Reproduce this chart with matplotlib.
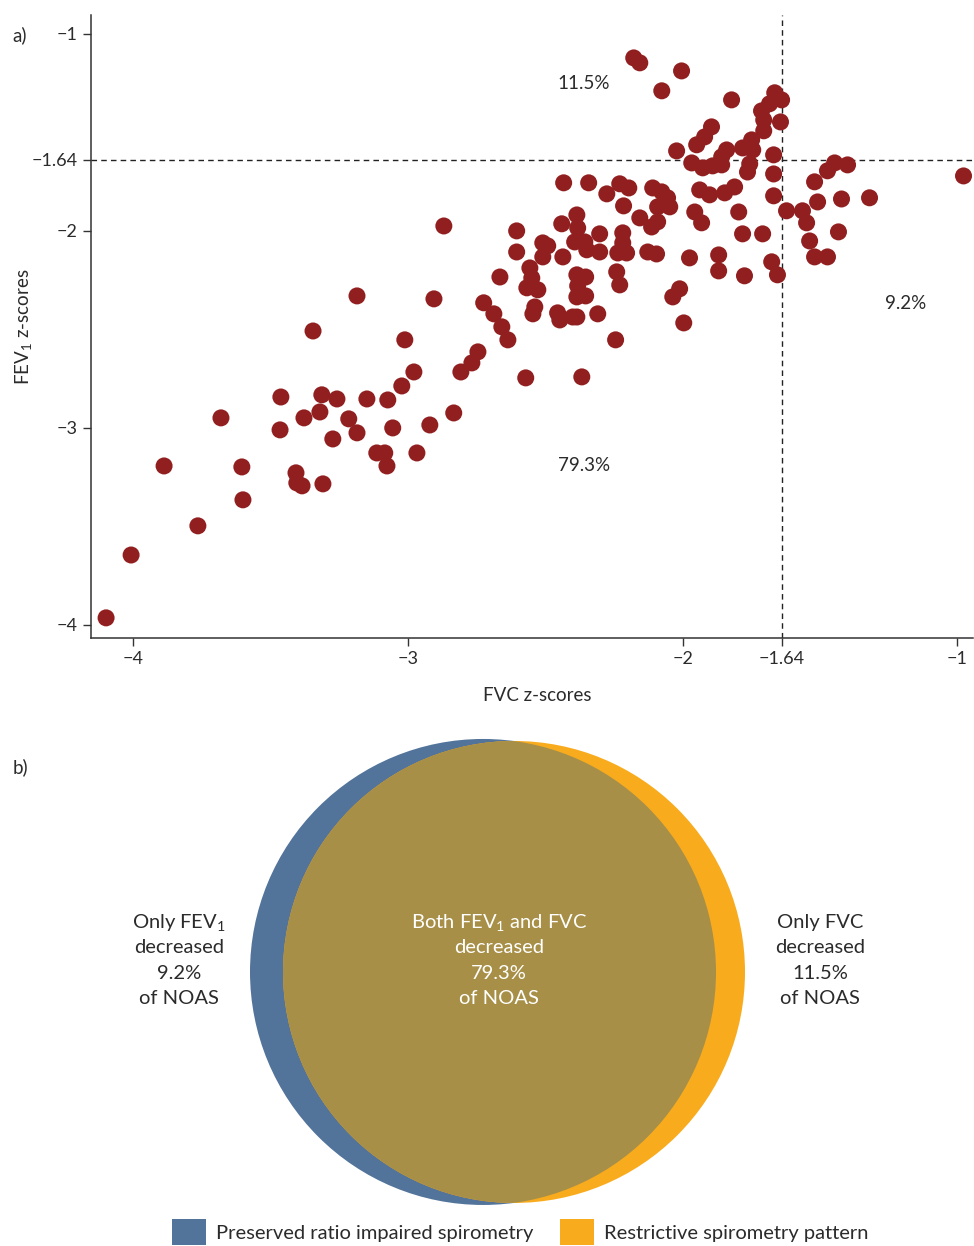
import matplotlib
matplotlib.use("Agg")
import matplotlib.pyplot as plt
from matplotlib.patches import Circle, Patch

plt.rcParams['font.family'] = ['Lato', 'DejaVu Sans']
plt.rcParams['mathtext.fontset'] = 'custom'
plt.rcParams['mathtext.rm'] = 'Lato'
plt.rcParams['mathtext.it'] = 'Lato'

# z-scores of each NOAS participant
fvc_z = [-2.178, -2.156, -2.004, -2.076, -1.822, -1.665, -1.640, -1.684, -1.713, -1.705,
         -1.644, -1.705, -1.895, -1.920, -1.949, -2.022, -1.840, -1.858, -1.782, -1.749,
         -1.745, -1.756, -1.669, -1.967, -1.927, -1.891, -1.858, -1.764, -1.669, -1.669,
         -1.447, -1.400, -1.473, -1.520, -1.509, -1.422, -1.320, -0.978, -1.622, -1.564,
         -1.549, -1.538, -1.433, -1.520, -1.473, -1.709, -1.676, -1.655, -2.109, -2.076,
         -2.055, -2.091, -2.047, -1.938, -1.902, -1.847, -1.811, -1.956, -1.931, -1.796,
         -1.782, -2.127, -2.095, -1.975, -1.869, -1.869, -1.775, -2.011, -2.036, -1.996,
         -2.433, -2.342, -2.276, -2.229, -2.196, -2.215, -2.385, -2.440, -2.156, -2.604,
         -2.604, -2.509, -2.491, -2.509, -2.436, -2.382, -2.393, -2.356, -2.349, -2.302,
         -2.302, -2.218, -2.218, -2.236, -2.204, -2.665, -2.556, -2.549, -2.567, -2.527,
         -2.385, -2.353, -2.382, -2.385, -2.353, -2.240, -2.229, -2.538, -2.545, -2.455,
         -2.447, -2.400, -2.385, -2.309, -2.724, -2.687, -2.658, -2.636, -2.244, -2.571,
         -2.367, -2.869, -3.185, -2.905, -3.345, -3.011, -2.745, -2.767, -2.807, -2.978,
         -3.022, -3.462, -3.313, -3.258, -3.149, -3.073, -3.320, -3.378, -3.215, -3.465,
         -3.273, -3.185, -3.055, -2.920, -2.833, -3.113, -3.084, -3.076, -2.967, -3.407,
         -3.404, -3.385, -3.309, -3.680, -3.887, -3.604, -3.600, -3.764, -4.007, -4.098,
         -2.113, -2.091]
fev1_z = [-1.122, -1.147, -1.188, -1.289, -1.335, -1.299, -1.335, -1.355, -1.391, -1.437,
          -1.447, -1.492, -1.472, -1.523, -1.563, -1.594, -1.589, -1.624, -1.579, -1.538,
          -1.589, -1.660, -1.614, -1.655, -1.680, -1.670, -1.665, -1.701, -1.711, -1.822,
          -1.655, -1.665, -1.695, -1.751, -1.853, -1.838, -1.832, -1.721, -1.898, -1.898,
          -1.959, -2.051, -2.005, -2.132, -2.132, -2.015, -2.157, -2.223, -1.782, -1.802,
          -1.832, -1.878, -1.878, -1.792, -1.817, -1.807, -1.777, -1.904, -1.959, -1.904,
          -2.015, -2.107, -2.117, -2.137, -2.122, -2.203, -2.228, -2.294, -2.335, -2.467,
          -1.756, -1.756, -1.812, -1.761, -1.782, -1.873, -1.919, -1.964, -1.934, -2.000,
          -2.107, -2.061, -2.076, -2.132, -2.132, -1.985, -2.056, -2.056, -2.096, -2.015,
          -2.107, -2.010, -2.061, -2.112, -2.112, -2.234, -2.188, -2.239, -2.289, -2.299,
          -2.223, -2.234, -2.279, -2.335, -2.330, -2.208, -2.274, -2.386, -2.421, -2.416,
          -2.452, -2.437, -2.437, -2.421, -2.365, -2.421, -2.487, -2.553, -2.553, -2.746,
          -2.741, -1.975, -2.330, -2.345, -2.508, -2.553, -2.614, -2.670, -2.716, -2.716,
          -2.787, -2.843, -2.832, -2.853, -2.853, -2.858, -2.919, -2.949, -2.954, -3.010,
          -3.056, -3.025, -3.000, -2.985, -2.924, -3.127, -3.127, -3.193, -3.127, -3.228,
          -3.279, -3.294, -3.284, -2.949, -3.193, -3.198, -3.365, -3.497, -3.645, -3.964,
          -1.980, -1.954]

lln = -1.64
pct_fvc_only = 11.5
pct_fev1_only = 9.2
pct_both = 79.3

x_ticks = [-4, -3, -2, -1.64, -1]
x_tick_labels = ['−4', '−3', '−2', '−1.64', '−1']
y_ticks = [-1, -1.64, -2, -3, -4]
y_tick_labels = ['−1', '−1.64', '−2', '−3', '−4']

dot_color = '#921f20'
blue = '#52739a'
orange = '#f9ab1e'
olive = '#a88f47'
text_color = '#2b2b2b'

fig = plt.figure(figsize=(9.74, 12.46), dpi=100)

# ---- a) scatter of z-scores ----
ax = fig.add_axes([0.0934, 0.488, 0.906, 0.500])
ax.scatter(fvc_z, fev1_z, s=150, color=dot_color, edgecolors='none', zorder=3)
ax.axhline(lln, color='#222222', linestyle=(0, (4, 3)), linewidth=1.0, zorder=1)
ax.axvline(lln, color='#222222', linestyle=(0, (4, 3)), linewidth=1.0, zorder=1)

ax.set_xlim(-4.153, -0.942)
ax.set_ylim(-4.066, -0.904)
ax.set_xticks(x_ticks)
ax.set_xticklabels(x_tick_labels)
ax.set_yticks(y_ticks)
ax.set_yticklabels(y_tick_labels)
ax.tick_params(direction='out', length=6, width=1, colors='#333333',
               labelsize=13, labelcolor=text_color)
for side in ['top', 'right']:
    ax.spines[side].set_visible(False)
for side in ['left', 'bottom']:
    ax.spines[side].set_color('#333333')
    ax.spines[side].set_linewidth(1.1)

ax.set_xlabel('FVC z-scores', fontsize=13.5, color=text_color)
ax.set_ylabel('FEV$_1$ z-scores', fontsize=13.5, color=text_color)
ax.xaxis.set_label_coords(0.506, -0.079)
ax.yaxis.set_label_coords(-0.064, 0.5)

ax.text(-2.36, -1.254, f'{pct_fvc_only}%', fontsize=13.5, color=text_color,
        ha='center', va='center')
ax.text(-1.19, -2.371, f'{pct_fev1_only}%', fontsize=13.5, color=text_color,
        ha='center', va='center')
ax.text(-2.36, -3.193, f'{pct_both}%', fontsize=13.5, color=text_color,
        ha='center', va='center')

fig.text(0.013, 0.972, 'a)', fontsize=13.5, color=text_color, va='center')
fig.text(0.013, 0.384, 'b)', fontsize=13.5, color=text_color, va='center')

# ---- b) overlap of the two reduced groups ----
vax = fig.add_axes([0.0, 0.0289, 1.0, 0.3933])
vax.set_xlim(0, 974)
vax.set_ylim(0, 490)
vax.set_aspect('equal')
vax.axis('off')

fev1_circle = Circle((483, 238), 233, color=blue, lw=0)
fvc_circle = Circle((514, 238), 231, color=orange, lw=0)
vax.add_patch(fev1_circle)
vax.add_patch(fvc_circle)
both = Circle((514, 238), 231, color=olive, lw=0)
vax.add_patch(both)
both.set_clip_path(fev1_circle)

line_y = [287, 262, 236, 211]
left_lines = ['Only FEV$_1$', 'decreased', f'{pct_fev1_only}%', 'of NOAS']
mid_lines = ['Both FEV$_1$ and FVC', 'decreased', f'{pct_both}%', 'of NOAS']
right_lines = ['Only FVC', 'decreased', f'{pct_fvc_only}%', 'of NOAS']
for y, a, b, c in zip(line_y, left_lines, mid_lines, right_lines):
    vax.text(179, y, a, fontsize=14.5, color=text_color, ha='center', va='center')
    vax.text(499, y, b, fontsize=14.5, color='white', ha='center', va='center')
    vax.text(820, y, c, fontsize=14.5, color=text_color, ha='center', va='center')

handles = [Patch(facecolor=blue, label='Preserved ratio impaired spirometry'),
           Patch(facecolor=orange, label='Restrictive spirometry pattern')]
fig.legend(handles=handles, loc='lower center', bbox_to_anchor=(0.534, -0.014),
           ncol=2, frameon=False, fontsize=14.5, handlelength=1.7, handleheight=1.6,
           handletextpad=0.5, columnspacing=1.3, labelcolor=text_color)

fig.savefig('out.png', dpi=100)
